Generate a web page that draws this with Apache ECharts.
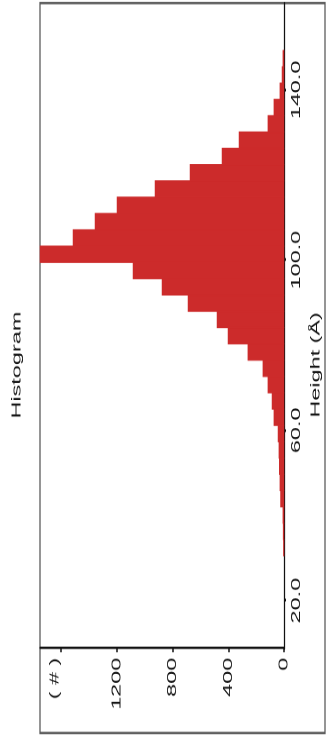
<!DOCTYPE html>
<html>
<head>
<meta charset="utf-8">
<script src="https://cdn.jsdelivr.net/npm/echarts@6/dist/echarts.min.js"></script>
<style>
  html, body { margin: 0; padding: 0; background: #fff; overflow: hidden; }
  #wrap { position: absolute; left: 0; top: 0; width: 329px; height: 746px; overflow: hidden; background: #fff; }
  /* The plot is laid out landscape, widened, then turned to stand upright on the page */
  #chart {
    position: absolute; left: 0; top: 0;
    width: 414px; height: 329px;
    transform-origin: 0 0;
    transform: translate(0, 746px) rotate(-90deg) scaleX(1.8019);
  }
</style>
</head>
<body>
<div id="wrap"><div id="chart"></div></div>
<script>
// Height bin edges (Å) and counts per bin
const binEdges = [30.53, 34.36, 38.19, 42.02, 45.85, 49.68, 53.51, 57.34, 61.17, 65.00,
                  68.83, 72.66, 76.49, 80.32, 84.15, 87.98, 91.81, 95.64, 99.47, 103.30,
                  107.13, 110.96, 114.79, 118.62, 122.45, 126.28, 130.11, 133.94, 137.77,
                  141.60, 145.43, 149.26];
const counts = [4, 6, 8, 25, 29, 34, 36, 43, 72, 86,
                115, 151, 259, 402, 481, 689, 876, 1084, 1752, 1515,
                1357, 1199, 926, 675, 445, 323, 115, 72, 29,
                14, 8];
const heightTicks = [20, 60, 100, 140];
const countTicks = [0, 400, 800, 1200, 1600];
const countLabels = [0, 400, 800, 1200];
const heightRange = [8.7, 160.4];
const countMax = 1752;

const font = '"Liberation Sans", Arial, sans-serif';
const textColor = '#161616';
const barColor = '#cc2b2b';

const bins = counts.map((c, i) => [binEdges[i], binEdges[i + 1], c]);

const chart = echarts.init(document.getElementById('chart'), null, { devicePixelRatio: 2 });

chart.setOption({
  animation: false,
  backgroundColor: '#fff',
  grid: { left: 54, right: 1.7, top: 40, bottom: 45, containLabel: false },
  xAxis: {
    type: 'value',
    min: heightRange[0],
    max: heightRange[1],
    position: 'bottom',
    splitLine: { show: false },
    axisLine: { show: true, lineStyle: { color: '#111', width: 1.3 } },
    axisTick: { show: true, length: 2, lineStyle: { color: '#111', width: 1.5 }, customValues: heightTicks },
    axisLabel: {
      customValues: heightTicks,
      formatter: v => v.toFixed(1),
      margin: 6,
      color: textColor,
      fontFamily: font,
      fontSize: 13
    }
  },
  yAxis: {
    type: 'value',
    min: 0,
    max: countMax,
    splitLine: { show: false },
    axisLine: { show: true, lineStyle: { color: '#111', width: 1.3 } },
    axisTick: { show: true, length: 2, lineStyle: { color: '#111', width: 1.5 }, customValues: countTicks },
    axisLabel: {
      customValues: countLabels,
      formatter: v => String(v),
      margin: 5,
      color: textColor,
      fontFamily: font,
      fontSize: 13
    }
  },
  graphic: [
    {
      type: 'rect', z: -10, silent: true,
      shape: { x: 7.2, y: 40, width: 405.1, height: 285 },
      style: { fill: null, stroke: '#555', lineWidth: 1.3 }
    },
    {
      type: 'text', x: 211.4, y: 17, silent: true,
      style: { text: 'Histogram', font: '13px ' + font, fill: textColor, align: 'center', verticalAlign: 'middle' }
    },
    {
      type: 'text', x: 211.5, y: 316, silent: true,
      style: { text: 'Height (Å)', font: '13px ' + font, fill: textColor, align: 'center', verticalAlign: 'middle' }
    },
    {
      type: 'text', x: 49, y: 55, silent: true,
      style: { text: '( # )', font: '13px ' + font, fill: textColor, align: 'right', verticalAlign: 'middle' }
    }
  ],
  series: [{
    type: 'custom',
    data: bins,
    encode: { x: [0, 1], y: 2 },
    renderItem: function (params, api) {
      const p0 = api.coord([api.value(0), api.value(2)]);
      const p1 = api.coord([api.value(1), 0]);
      return {
        type: 'rect',
        shape: { x: p0[0], y: p0[1], width: p1[0] - p0[0], height: p1[1] - p0[1] },
        style: { fill: barColor, stroke: barColor, lineWidth: 0.6 }
      };
    }
  }]
});
</script>
</body>
</html>
